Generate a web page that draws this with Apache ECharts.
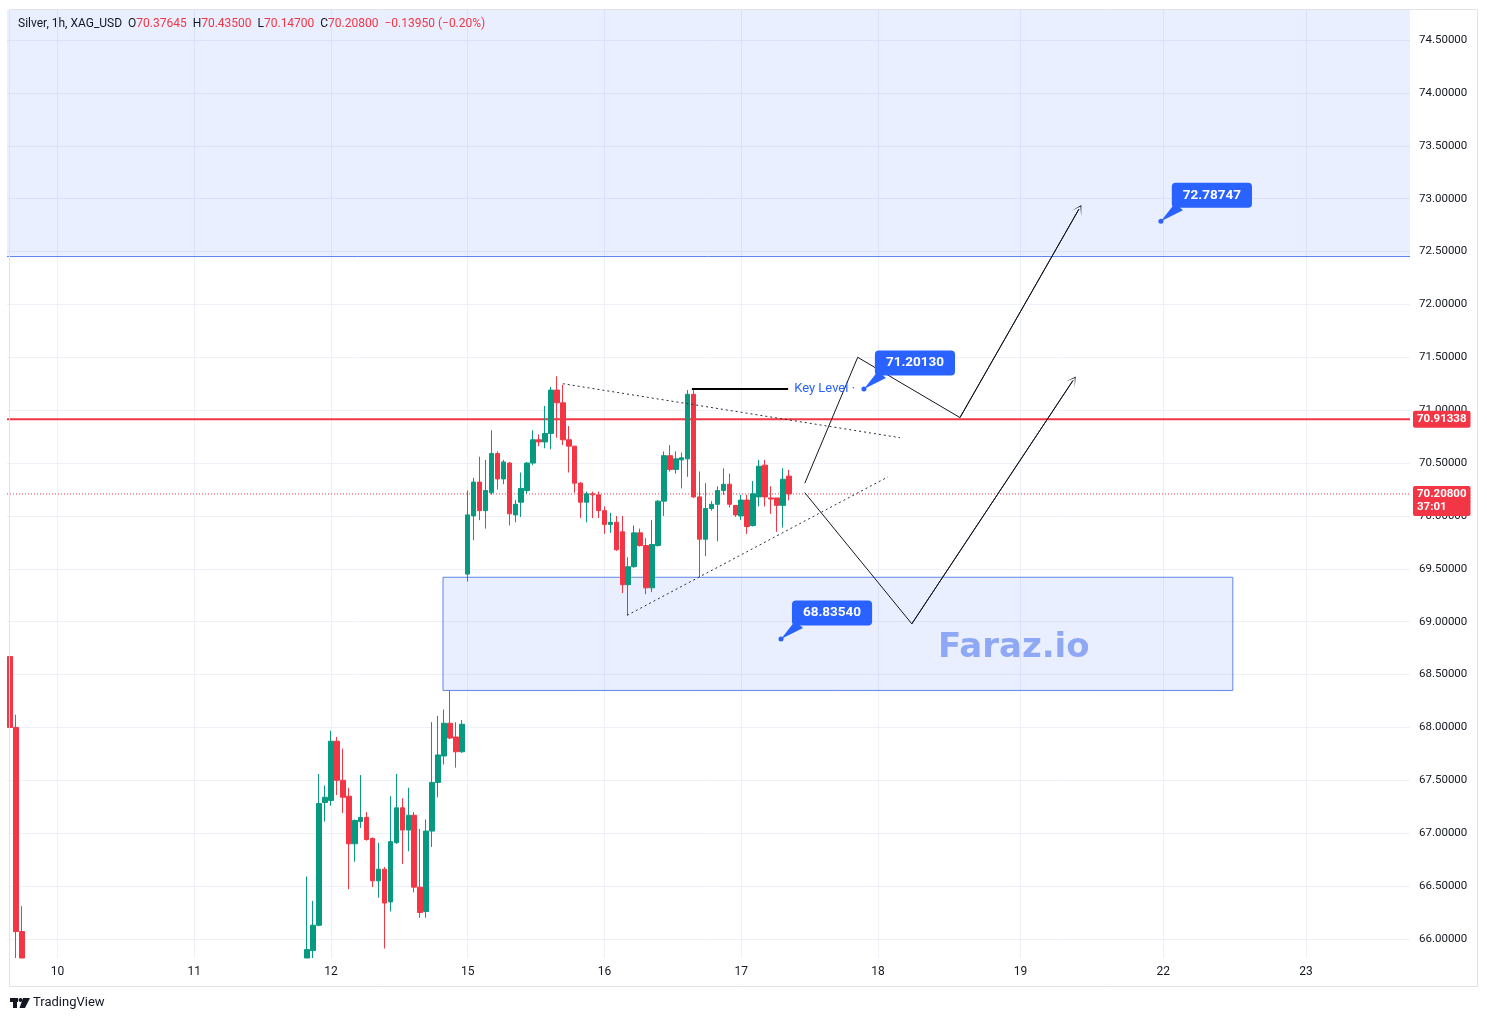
<!DOCTYPE html>
<html>
<head>
<meta charset="utf-8">
<title>Silver, 1h, XAG_USD</title>
<script src="https://cdn.jsdelivr.net/npm/echarts@6/dist/echarts.min.js"></script>
<style>
  html, body { margin: 0; padding: 0; background: #fff; }
  #chart { width: 1487px; height: 1021px; }
</style>
</head>
<body>
<div id="chart"></div>
<script>
// price scale
const yMin = 65.82
const yMax = 74.784
const yTicks = [66, 66.5, 67, 67.5, 68, 68.5, 69, 69.5, 70, 70.5, 71, 71.5, 72, 72.5, 73, 73.5, 74, 74.5]

// time scale: one slot per hour bar
const slotCount = 236
const dayLabels = ['10', '11', '12', '15', '16', '17', '18', '19', '22', '23']
const daySlots = [8, 31, 54, 77, 100, 123, 146, 170, 194, 218]

// candles [open, close, low, high]; first slot of each run
// (bars that run off the bottom of the view are cut at the visible edge)
const dec09Start = 0
const dec09 = [
  [68.67, 68.00, 67.85, 69.04],
  [68.00, 66.07, 65.82, 68.12],
  [66.07, 65.82, 65.82, 66.31]
]
const dec11Start = 50
const dec11 = [
  [65.82, 65.90, 65.82, 66.59],
  [65.89, 66.13, 65.82, 66.36],
  [66.13, 67.28, 66.12, 67.56],
  [67.29, 67.34, 67.11, 67.45]
]
const dec12Start = 54
const dec12 = [
  [67.31, 67.87, 67.26, 67.97], [67.87, 67.50, 67.36, 67.91], [67.50, 67.34, 67.19, 67.80],
  [67.35, 66.90, 66.47, 67.43], [66.90, 67.12, 66.73, 67.13], [67.11, 67.15, 67.05, 67.55],
  [67.15, 66.94, 66.93, 67.20], [66.95, 66.55, 66.49, 66.96], [66.55, 66.66, 66.39, 66.91],
  [66.66, 66.34, 65.91, 66.68], [66.35, 66.92, 66.26, 67.35], [66.91, 67.24, 66.90, 67.56],
  [67.24, 67.03, 66.71, 67.33], [67.03, 67.17, 66.83, 67.43], [67.17, 66.49, 66.44, 67.20],
  [66.49, 66.25, 66.20, 67.04], [66.26, 67.02, 66.20, 67.13], [67.02, 67.48, 66.87, 68.05],
  [67.48, 67.74, 67.34, 68.11], [67.73, 68.04, 67.65, 68.17], [68.04, 67.90, 67.89, 68.35],
  [67.91, 67.77, 67.62, 68.05], [67.77, 68.03, 67.76, 68.07]
]
const dec15Start = 77
const dec15 = [
  [69.45, 70.01, 69.38, 70.24], [70.00, 70.32, 69.77, 70.36], [70.32, 70.05, 69.96, 70.56],
  [70.05, 70.24, 69.88, 70.53], [70.22, 70.59, 70.20, 70.81], [70.59, 70.35, 70.25, 70.61],
  [70.35, 70.51, 70.30, 70.53], [70.50, 70.02, 69.91, 70.51], [70.01, 70.11, 69.94, 70.15],
  [70.13, 70.26, 69.99, 70.41], [70.24, 70.50, 70.21, 70.51], [70.50, 70.72, 70.48, 70.81],
  [70.72, 70.70, 70.66, 70.77], [70.70, 70.78, 70.64, 71.04], [70.78, 71.19, 70.63, 71.22],
  [71.19, 71.07, 70.74, 71.32], [71.07, 70.72, 70.67, 71.24], [70.72, 70.66, 70.41, 70.85],
  [70.66, 70.31, 70.22, 70.66], [70.31, 70.13, 69.98, 70.32], [70.13, 70.21, 69.94, 70.23],
  [70.21, 70.20, 69.98, 70.23], [70.20, 70.05, 69.98, 70.23]
]
const dec16Start = 100
const dec16 = [
  [70.05, 69.92, 69.83, 70.09], [69.92, 69.94, 69.84, 70.03], [69.94, 69.68, 69.67, 70.00],
  [69.85, 69.35, 69.27, 70.00], [69.35, 69.52, 69.06, 69.61], [69.52, 69.84, 69.51, 69.91],
  [69.84, 69.72, 69.71, 69.88], [69.72, 69.32, 69.26, 69.79], [69.32, 69.73, 69.28, 69.96],
  [69.72, 70.14, 69.71, 70.15], [70.14, 70.57, 70.00, 70.61], [70.57, 70.44, 70.42, 70.67],
  [70.44, 70.54, 70.40, 70.61], [70.53, 70.55, 70.26, 70.60], [70.54, 71.15, 70.37, 71.19],
  [71.15, 70.18, 70.17, 71.21], [70.18, 69.78, 69.42, 70.42], [69.78, 70.07, 69.62, 70.31],
  [70.07, 70.11, 70.05, 70.14], [70.11, 70.24, 69.76, 70.28], [70.24, 70.30, 70.20, 70.45],
  [70.30, 70.11, 70.08, 70.40], [70.10, 70.01, 69.99, 70.10]
]
const dec17Start = 123
const dec17 = [
  [70.00, 70.15, 69.96, 70.20], [70.15, 69.90, 69.83, 70.20], [69.91, 70.21, 69.90, 70.33],
  [70.18, 70.47, 70.09, 70.53], [70.48, 70.18, 70.09, 70.53], [70.17, 70.16, 70.02, 70.28],
  [70.17, 70.10, 69.85, 70.17], [70.10, 70.3475, 69.89, 70.45], [70.37645, 70.208, 70.147, 70.435]
]

// drawn levels and zones
const resistanceLevel = 70.91338
const supplyZoneLow = 72.46
const demandBoxSlots = [72.84, 205.7]
const demandBoxPrices = [69.42, 68.35]
const keyLevelSlots = [114.7, 130.9]
const keyLevelPrice = 71.2013

// dotted triangle
const upperTrendSlots = [93.0, 149.7]
const upperTrendPrices = [71.25, 70.74]
const lowerTrendSlots = [103.8, 147.7]
const lowerTrendPrices = [69.06, 70.37]

// scenario paths
const bullPathSlots = [133.7, 142.6, 159.8, 179.8]
const bullPathPrices = [70.31, 71.50, 70.93, 72.90]
const bearPathSlots = [133.7, 151.7, 178.8]
const bearPathPrices = [70.22, 68.98, 71.28]

// price callouts
const calloutSlots = [143.65, 193.6, 129.7]
const calloutPrices = [71.20130, 72.78747, 68.83540]

const green = '#089981'
const red = '#F23645'
const blue = '#2962FF'
const ink = '#131722'
const font = 'Roboto, "Noto Sans", sans-serif'

const categories = Array.from({ length: slotCount }, (_, i) => String(i))
const candles = categories.map(() => ['-', '-', '-', '-'])
;[[dec09Start, dec09], [dec11Start, dec11], [dec12Start, dec12], [dec15Start, dec15],
  [dec16Start, dec16], [dec17Start, dec17]].forEach(([start, rows]) => {
  rows.forEach((r, i) => { candles[start + i] = r })
})

const last = dec17[dec17.length - 1]
const prevClose = dec17[dec17.length - 2][1]
const change = last[1] - prevClose
const changePct = change / prevClose * 100
const fmt = v => v.toFixed(5)
const signed = (v, d) => (v < 0 ? '\u2212' : '+') + Math.abs(v).toFixed(d)

const zip = (xs, ys) => xs.map((x, i) => [x, ys[i]])
const bull = zip(bullPathSlots, bullPathPrices)
const bear = zip(bearPathSlots, bearPathPrices)
const chevron = 'path://M0,10 L5,0 L10,10 L5,1.8 Z'
const fullSpan = [-0.5, slotCount - 0.5]

const pathSeries = (data, style) => ({
  type: 'line', xAxisIndex: 1, data, showSymbol: false, silent: true, z: 6,
  lineStyle: Object.assign({ color: ink, width: 1 }, style)
})

const arrowHead = pts => ({
  silent: true, symbol: ['none', chevron], symbolSize: [11, 10],
  lineStyle: { color: ink, width: 1, type: 'solid' }, label: { show: false },
  data: [[{ coord: pts[pts.length - 2] }, { coord: pts[pts.length - 1] }]]
})

const priceTag = {
  show: true, distance: 3,
  backgroundColor: red, color: '#fff', fontSize: 11.5, fontWeight: 'bold',
  fontFamily: font, borderRadius: 2
}

const chart = echarts.init(document.getElementById('chart'))
chart.setOption({
  animation: false,
  backgroundColor: '#ffffff',
  textStyle: { fontFamily: font },
  title: {
    left: 13, top: 12,
    text: `{k|Silver, 1h, XAG_USD}  {k|O}{v|${fmt(last[0])}}  {k|H}{v|${fmt(last[3])}}  {k|L}{v|${fmt(last[2])}}  {k|C}{v|${fmt(last[1])}}  {v|${signed(change, 5)} (${signed(changePct, 2)}%)}`,
    textStyle: {
      fontWeight: 'normal', fontSize: 12, lineHeight: 14,
      rich: {
        k: { color: ink, fontSize: 12, fontWeight: 'normal', fontFamily: font },
        v: { color: red, fontSize: 12, fontWeight: 'normal', fontFamily: font }
      }
    }
  },
  grid: { left: 7, right: 77, top: 10, bottom: 63 },
  xAxis: [
    { type: 'category', data: categories, boundaryGap: true, show: false },
    {
      type: 'value', min: -0.5, max: slotCount - 0.5, position: 'bottom',
      axisLine: { show: false },
      axisTick: { show: false, customValues: daySlots },
      axisLabel: {
        customValues: daySlots, color: ink, fontSize: 12, margin: 8,
        formatter: v => dayLabels[daySlots.indexOf(v)]
      },
      splitLine: { show: true, lineStyle: { color: '#EEF1F8', width: 1 } }
    }
  ],
  yAxis: {
    type: 'value', position: 'right', min: yMin, max: yMax,
    axisLine: { show: false },
    axisTick: { show: false, customValues: yTicks },
    axisLabel: { customValues: yTicks, formatter: fmt, color: ink, fontSize: 11.5, margin: 9 },
    splitLine: { show: true, lineStyle: { color: '#EEF1F8', width: 1 } }
  },
  graphic: [
    {
      type: 'rect', silent: true, z: 100,
      shape: { x: 9.5, y: 9.5, width: 1468, height: 977 },
      style: { fill: 'none', stroke: '#E0E3EB', lineWidth: 1 }
    },
    {
      type: 'text', left: 938, top: 631, z: 4, silent: true,
      style: { text: 'Faraz.io', fill: '#8EA8F6', font: 'bold 34px "DejaVu Sans", sans-serif' }
    },
    { type: 'rect', shape: { x: 10, y: 998, width: 8, height: 4 }, style: { fill: ink } },
    { type: 'rect', shape: { x: 13, y: 998, width: 4, height: 10 }, style: { fill: ink } },
    { type: 'circle', shape: { cx: 20.5, cy: 1000, r: 2 }, style: { fill: ink } },
    { type: 'polygon', shape: { points: [[23, 998], [30, 998], [25, 1008], [19.5, 1008]] }, style: { fill: ink } },
    {
      type: 'text', left: 33, top: 996,
      style: { text: 'TradingView', fill: ink, font: '13px ' + font }
    }
  ],
  series: [
    {
      name: 'zones', type: 'line', xAxisIndex: 1, data: [], z: 1, silent: true,
      markArea: {
        silent: true,
        itemStyle: { color: 'rgba(41,98,255,0.1)' },
        data: [
          [{ yAxis: supplyZoneLow }, { yAxis: yMax }],
          [
            { coord: [demandBoxSlots[0], demandBoxPrices[0]], itemStyle: { borderColor: '#5F86E8', borderWidth: 1 } },
            { coord: [demandBoxSlots[1], demandBoxPrices[1]] }
          ]
        ]
      },
      markLine: {
        silent: true, symbol: ['none', 'none'],
        lineStyle: { color: '#5F86E8', width: 1, type: 'solid' },
        label: { show: false },
        data: [{ yAxis: supplyZoneLow }]
      }
    },
    {
      name: 'resistance', type: 'line', xAxisIndex: 1, z: 3, silent: true, showSymbol: false,
      data: zip(fullSpan, [resistanceLevel, resistanceLevel]),
      lineStyle: { color: red, width: 2 },
      endLabel: Object.assign({ formatter: fmt(resistanceLevel), padding: [3, 4, 2, 4] }, priceTag)
    },
    {
      name: 'lastPrice', type: 'line', xAxisIndex: 1, z: 3, silent: true, showSymbol: false,
      data: zip(fullSpan, [last[1], last[1]]),
      lineStyle: { color: red, width: 1, type: [1, 2] },
      endLabel: Object.assign({
        formatter: fmt(last[1]) + '\n37:01', lineHeight: 13, offset: [0, 7], padding: [2, 4, 2, 4]
      }, priceTag)
    },
    {
      name: 'XAG_USD', type: 'candlestick', xAxisIndex: 0, data: candles, z: 5,
      barWidth: 5, clip: true,
      itemStyle: { color: green, color0: red, borderColor: green, borderColor0: red, borderWidth: 1 }
    },
    pathSeries(zip(upperTrendSlots, upperTrendPrices), { type: [2, 3], color: '#2A2E39' }),
    pathSeries(zip(lowerTrendSlots, lowerTrendPrices), { type: [2, 3], color: '#2A2E39' }),
    Object.assign(pathSeries(zip(keyLevelSlots, [keyLevelPrice, keyLevelPrice]), { width: 2, color: '#000' }), {
      endLabel: { show: true, formatter: 'Key Level \u00b7', color: blue, fontSize: 13, distance: 6 }
    }),
    Object.assign(pathSeries(bull, {}), { markLine: arrowHead(bull) }),
    Object.assign(pathSeries(bear, {}), { markLine: arrowHead(bear) }),
    {
      name: 'calloutTail', type: 'scatter', xAxisIndex: 1, silent: true, z: 7,
      data: zip(calloutSlots, calloutPrices),
      symbol: 'path://M0,20 L14,2 L22,9 Z', symbolSize: [22, 18], symbolOffset: [11, -9],
      itemStyle: { color: blue, opacity: 1 }
    },
    {
      name: 'callout', type: 'scatter', xAxisIndex: 1, silent: true, z: 8,
      data: zip(calloutSlots, calloutPrices),
      symbol: 'circle', symbolSize: 5,
      itemStyle: { color: blue, opacity: 1 },
      label: {
        show: true, position: 'inside', offset: [51, -26],
        formatter: p => fmt(p.value[1]),
        backgroundColor: blue, color: '#fff', fontSize: 13.5, fontWeight: 'bold',
        padding: [6, 11, 5, 11], borderRadius: 4, lineHeight: 14
      }
    }
  ]
})
</script>
</body>
</html>
